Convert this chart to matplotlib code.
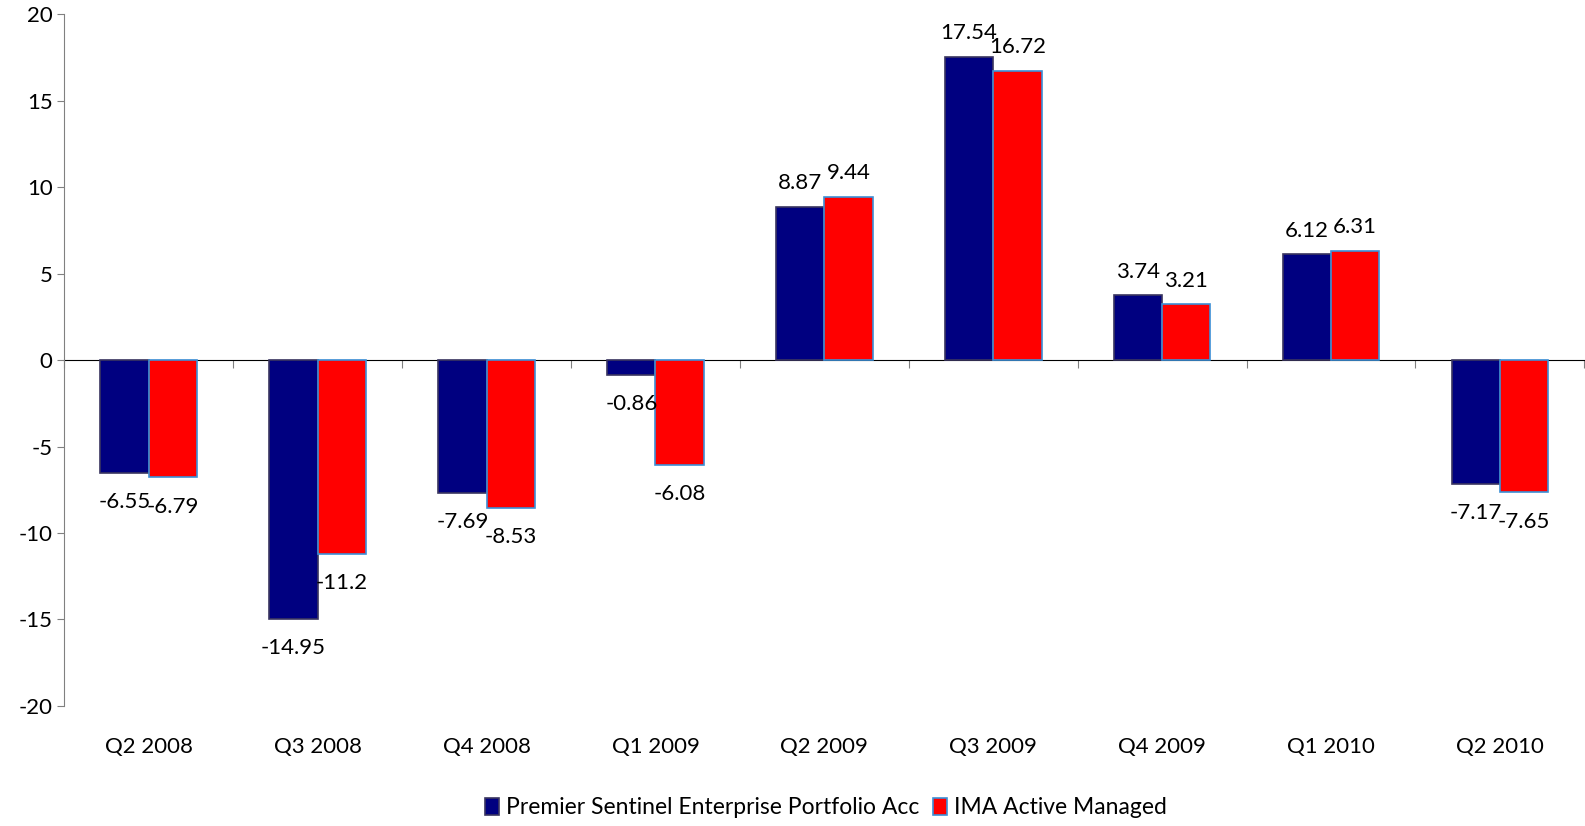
import numpy as np
import matplotlib
matplotlib.use("Agg")
import matplotlib.pyplot as plt

quarters = ['Q2 2008', 'Q3 2008', 'Q4 2008', 'Q1 2009', 'Q2 2009',
            'Q3 2009', 'Q4 2009', 'Q1 2010', 'Q2 2010']
premier = [-6.55, -14.95, -7.69, -0.86, 8.87, 17.54, 3.74, 6.12, -7.17]
ima = [-6.79, -11.2, -8.53, -6.08, 9.44, 16.72, 3.21, 6.31, -7.65]
series_names = ['Premier Sentinel Enterprise Portfolio Acc', 'IMA Active Managed']

plt.rcParams['font.family'] = ['Lato', 'DejaVu Sans']
plt.rcParams['axes.unicode_minus'] = False

fig = plt.figure(figsize=(15.85, 8.26), dpi=100)
ax = fig.add_axes([0.0406, 0.1453, 0.959, 0.8377])

pos = np.arange(len(quarters))
w = 0.286
b1 = ax.bar(pos - w / 2, premier, w, color='#000080', edgecolor='#3a3560', linewidth=1.2,
            label=series_names[0])
b2 = ax.bar(pos + w / 2, ima, w, color='#ff0000', edgecolor='#3c8fd6', linewidth=1.2,
            label=series_names[1])

for bars, vals in ((b1, premier), (b2, ima)):
    for bar, v in zip(bars, vals):
        x = bar.get_x() + bar.get_width() / 2
        off = 17 if v > 0 else -21
        ax.annotate(str(v), (x, v), xytext=(0, off), textcoords='offset points',
                    ha='center', va='center', fontsize=16)

ax.set_xlim(-0.5, len(quarters) - 0.5)
ax.set_ylim(-20, 20)
ax.set_yticks(range(-20, 21, 5))
ax.tick_params(axis='y', labelsize=16, length=5, color='#808080')

ax.set_xticks(pos)
ax.set_xticklabels(quarters, fontsize=16)
ax.tick_params(axis='x', length=0, pad=22)

for s in ['top', 'right', 'bottom']:
    ax.spines[s].set_visible(False)
ax.spines['left'].set_color('#808080')

# category axis drawn through zero, ticks between groups pointing down
sec = ax.secondary_xaxis(0.5)
sec.set_xticks(np.arange(-0.5, len(quarters), 1.0))
sec.set_xticklabels([])
sec.xaxis.set_ticks_position('bottom')
sec.tick_params(axis='x', direction='out', length=6, color='#808080')
sec.spines['bottom'].set_color('#808080')

fig.legend(loc='center', bbox_to_anchor=(0.521, 0.022), ncol=2, frameon=False,
           fontsize=16.5, handlelength=0.6, handleheight=0.8, handletextpad=0.3,
           columnspacing=0.6)

fig.savefig('out.png', dpi=100)
